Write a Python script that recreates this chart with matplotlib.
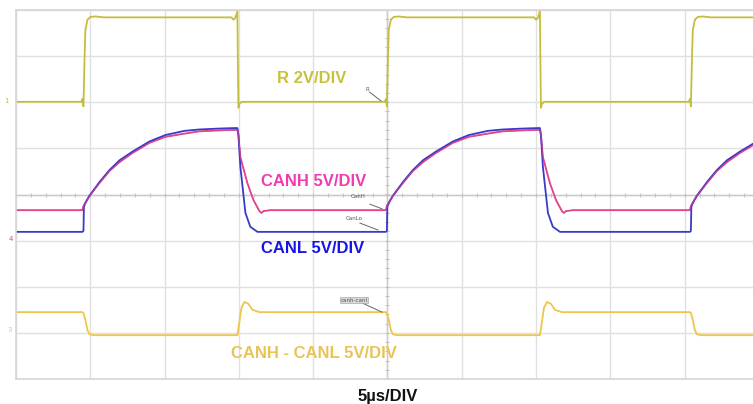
import numpy as np
import matplotlib
matplotlib.use('Agg')
import matplotlib.pyplot as plt

# Scope capture, 5 us/div horizontally; vertical values are in screen divisions
# (centre line = 0, screen spans -4 .. +4).
T_END = 49.6                       # right edge of the picture, us
RISE_T = [4.54, 24.96, 45.42]      # R goes low -> high, us
FALL_T = [14.90, 35.26]            # R goes high -> low, us

# Edge shapes: time after edge (us) and level (div)
R_UP_T = [-0.13, -0.07, 0.0, 0.07, 0.13, 0.27, 0.47, 0.81, 1.35]
R_UP_V = [2.01, 2.07, 1.91, 2.92, 3.57, 3.79, 3.85, 3.86, 3.84]
R_DN_T = [-0.40, -0.27, -0.13, 0.0, 0.03, 0.07, 0.13, 0.27]
R_DN_V = [3.84, 3.79, 3.83, 3.98, 2.92, 1.88, 1.96, 2.01]

CANH_UP_T = [-0.07, 0.0, 0.13, 0.40, 1.08, 1.75, 2.42, 3.30, 4.44, 5.52, 6.80, 7.81, 9.15, 10.16]
CANH_UP_V = [-0.34, -0.25, -0.18, -0.03, 0.25, 0.51, 0.70, 0.90, 1.12, 1.25, 1.32, 1.37, 1.39, 1.40]
CANH_DN_T = [0.0, 0.07, 0.20, 0.67, 1.08, 1.48, 1.62, 1.75, 2.22]
CANH_DN_V = [1.40, 1.29, 0.81, 0.25, -0.12, -0.36, -0.40, -0.36, -0.34]

CANL_UP_T = [-0.07, 0.0, 0.03, 0.13, 0.40, 1.08, 1.75, 2.42, 3.30, 4.44, 5.52, 6.80, 7.81, 9.15, 10.16]
CANL_UP_V = [-0.81, -0.79, -0.27, -0.18, -0.03, 0.27, 0.53, 0.74, 0.93, 1.15, 1.29, 1.38, 1.41, 1.43, 1.44]
CANL_DN_T = [0.0, 0.07, 0.20, 0.54, 0.87, 1.35]
CANL_DN_V = [1.44, 1.29, 0.60, -0.40, -0.70, -0.81]

DIFF_UP_T = [-0.07, 0.0, 0.13, 0.27, 0.40, 0.67]
DIFF_UP_V = [-2.55, -2.57, -2.72, -2.94, -3.03, -3.05]
DIFF_DN_T = [0.0, 0.13, 0.27, 0.47, 0.74, 1.01, 1.48]
DIFF_DN_V = [-3.05, -2.77, -2.46, -2.33, -2.37, -2.50, -2.55]

START = {'R': 2.01, 'CANH': -0.34, 'CANL': -0.81, 'DIFF': -2.55}

COL_R = '#c4be3a'
COL_H = '#e2448e'
COL_L = '#3a3ac8'
COL_D = '#eec64a'


def trace(start, up_t, up_v, dn_t, dn_v):
    edges = sorted([(t, up_t, up_v) for t in RISE_T] + [(t, dn_t, dn_v) for t in FALL_T])
    ts, vs = [0.0], [start]
    for t0, st, sv in edges:
        ts += [t0 + d for d in st]
        vs += list(sv)
    ts.append(T_END + 1)
    vs.append(vs[-1])
    return ts, vs


W, H = 753, 404
fig = plt.figure(figsize=(W / 100, H / 100), dpi=100)
left, top, bottom = 16, 10, 379
ax = fig.add_axes([left / W, (H - bottom) / H, (W - left) / W, (bottom - top) / H])
ax.set_xlim(0, T_END)
ax.set_ylim(-4, 4)

grid_c = '#e0e0e0'
ax.set_xticks(np.arange(0, 50, 5))
ax.set_yticks(np.arange(-4, 5, 1))
ax.grid(True, color=grid_c, lw=1.0)
ax.tick_params(length=0, labelbottom=False, labelleft=False)
for s in ['left', 'top', 'bottom']:
    ax.spines[s].set_color('#d6d6d6')
    ax.spines[s].set_linewidth(1.2)
ax.spines['right'].set_visible(False)

# centre graticule with small ticks
ax.axhline(0, color='#cacaca', lw=1.0)
ax.axvline(25, color='#cacaca', lw=1.0)
ax.plot(np.arange(0, 50, 1.0), np.zeros(50), ls='none', marker='|', ms=3,
        color='#c0c0c0', mew=0.7)
ax.plot(np.full(40, 25.0), np.arange(-4, 4, 0.2), ls='none', marker='_', ms=3,
        color='#c0c0c0', mew=0.7)

for key, shapes, col in [('R', (R_UP_T, R_UP_V, R_DN_T, R_DN_V), COL_R),
                         ('DIFF', (DIFF_UP_T, DIFF_UP_V, DIFF_DN_T, DIFF_DN_V), COL_D),
                         ('CANH', (CANH_UP_T, CANH_UP_V, CANH_DN_T, CANH_DN_V), COL_H),
                         ('CANL', (CANL_UP_T, CANL_UP_V, CANL_DN_T, CANL_DN_V), COL_L)]:
    ts, vs = trace(START[key], *shapes)
    ax.plot(ts, vs, color=col, lw=1.3, solid_joinstyle='round')

# re-draw CANH thinly over CANL where they overlap on the rising edge
ts, vs = trace(START['CANH'], CANH_UP_T, CANH_UP_V, CANH_DN_T, CANH_DN_V)
ax.plot(ts, vs, color=COL_H, lw=0.8, alpha=0.7)

font = 'Liberation Sans'
ax.text(19.92, 2.52, 'R 2V/DIV', color='#c8c23a', fontsize=12, fontweight='bold',
        family=font, ha='center', va='center')
ax.text(20.05, 0.29, 'CANH 5V/DIV', color='#f03cb2', fontsize=12, fontweight='bold',
        family=font, ha='center', va='center')
ax.text(19.99, -1.18, 'CANL 5V/DIV', color='#1616e4', fontsize=12, fontweight='bold',
        family=font, ha='center', va='center')
ax.text(20.02, -3.45, 'CANH - CANL 5V/DIV', color='#e8c458', fontsize=12,
        fontweight='bold', family=font, ha='center', va='center')
ax.text(25.0, -4.39, '5µs/DIV', color='#111111', fontsize=12, fontweight='bold',
        family=font, ha='center', va='center', clip_on=False)

# small trace tags with leader lines
tags = [('R', 23.62, 2.27, (23.8, 24.56), (2.22, 2.03), False),
        ('CanH', 23.01, -0.05, (23.82, 24.63), (-0.21, -0.31), False),
        ('CanLo', 22.74, -0.53, (23.15, 24.36), (-0.62, -0.77), False),
        ('canh-canl', 22.74, -2.29, (23.15, 24.63), (-2.33, -2.55), True)]
for txt, tx, ty, lx, ly, boxed in tags:
    ax.plot(lx, ly, color='#666666', lw=0.7)
    kw = dict(boxstyle='square,pad=0.15', fc='#d8d8d8', ec='#999999', lw=0.4) if boxed else None
    ax.text(tx, ty, txt, fontsize=4, color='#555555', ha='center', va='center',
            bbox=kw)

# channel ground markers at the left edge
fig.text(6 / W, 1 - 101 / H, '1', fontsize=5, color=COL_R, ha='center', va='center')
fig.text(11 / W, 1 - 239 / H, '4', fontsize=5, color=COL_H, ha='center', va='center')
fig.text(10 / W, 1 - 330 / H, '3', fontsize=5, color=COL_D, ha='center', va='center')

fig.savefig('out.png', dpi=100)
